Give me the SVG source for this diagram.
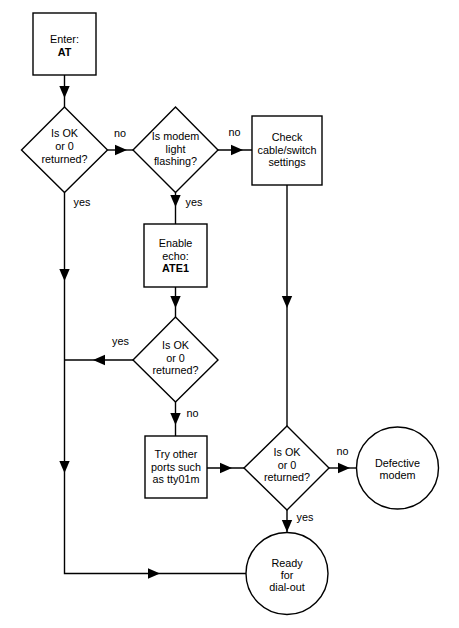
<svg xmlns="http://www.w3.org/2000/svg" width="459" height="628" viewBox="0 0 459 628">
<style>
.s{fill:#fff;stroke:#000;stroke-width:1.4}
.c line,.c polyline{stroke:#000;stroke-width:1.4;fill:none}
text{font-family:"Liberation Sans",Arial,sans-serif;font-size:10.8px;fill:#000;text-anchor:middle}
.b{font-weight:bold}
</style>
<defs>
<path id="ah" d="M0,0 L-12,-5.2 L-12,5.2 Z" fill="#000"/>
</defs>
<rect width="459" height="628" fill="#fff"/>
<g class="c" id="connectors">
<line x1="64.5" y1="75" x2="64.5" y2="107"/>
<line x1="107.5" y1="150" x2="133" y2="150"/>
<line x1="218" y1="150" x2="252" y2="150"/>
<line x1="175.5" y1="192.5" x2="175.5" y2="224"/>
<line x1="175.5" y1="287" x2="175.5" y2="317"/>
<line x1="133" y1="360" x2="64.5" y2="360"/>
<line x1="175.5" y1="402" x2="175.5" y2="436"/>
<line x1="207" y1="468" x2="244" y2="468"/>
<line x1="329" y1="468" x2="356.5" y2="468"/>
<line x1="287" y1="510" x2="287" y2="532"/>
<line x1="287" y1="185" x2="287" y2="426"/>
<polyline points="64.5,192.5 64.5,573.5 246,573.5"/>
<use href="#ah" transform="translate(64.5,98) rotate(90)"/>
<use href="#ah" transform="translate(127,150)"/>
<use href="#ah" transform="translate(243,150)"/>
<use href="#ah" transform="translate(175.5,207) rotate(90)"/>
<use href="#ah" transform="translate(175.5,308) rotate(90)"/>
<use href="#ah" transform="translate(93,360) rotate(180)"/>
<use href="#ah" transform="translate(175.5,425) rotate(90)"/>
<use href="#ah" transform="translate(232,468)"/>
<use href="#ah" transform="translate(350,468)"/>
<use href="#ah" transform="translate(287,532) rotate(90)"/>
<use href="#ah" transform="translate(287,308) rotate(90)"/>
<use href="#ah" transform="translate(64.5,281) rotate(90)"/>
<use href="#ah" transform="translate(64.5,473) rotate(90)"/>
<use href="#ah" transform="translate(160,573.5)"/>
<text x="120" y="137">no</text>
<text x="234.5" y="136">no</text>
<text x="82" y="206">yes</text>
<text x="194" y="206">yes</text>
<text x="120.5" y="345">yes</text>
<text x="192.5" y="417">no</text>
<text x="342.5" y="455">no</text>
<text x="305" y="521">yes</text>
</g>
<g id="enter">
<rect class="s" x="33" y="13" width="63" height="62"/>
<text x="64.5" y="43">Enter:</text>
<text x="64.5" y="56" class="b">AT</text>
</g>
<g id="d1">
<polygon class="s" points="64.5,107 107.5,150 64.5,192.5 21.5,150"/>
<text x="64.5" y="137">Is OK</text>
<text x="64.5" y="150">or 0</text>
<text x="64.5" y="163">returned?</text>
</g>
<g id="d2">
<polygon class="s" points="175.5,107 218,150 175.5,192.5 133,150"/>
<text x="175.5" y="140">Is modem</text>
<text x="175.5" y="152.5">light</text>
<text x="175.5" y="164.5">flashing?</text>
</g>
<g id="check">
<rect class="s" x="252" y="116" width="70" height="69"/>
<text x="287" y="141">Check</text>
<text x="287" y="153.5">cable/switch</text>
<text x="287" y="165.5">settings</text>
</g>
<g id="enable">
<rect class="s" x="144" y="224" width="63" height="63"/>
<text x="175.5" y="247">Enable</text>
<text x="175.5" y="259.5">echo:</text>
<text x="175.5" y="272" class="b">ATE1</text>
</g>
<g id="d3">
<polygon class="s" points="175.5,317 218,360 175.5,402 133,360"/>
<text x="175.5" y="349">Is OK</text>
<text x="175.5" y="361.5">or 0</text>
<text x="175.5" y="374">returned?</text>
</g>
<g id="try">
<rect class="s" x="145" y="436" width="62" height="62"/>
<text x="176" y="458">Try other</text>
<text x="176" y="470.5">ports such</text>
<text x="176" y="483">as tty01m</text>
</g>
<g id="d4">
<polygon class="s" points="287,426 329,468 287,510 244,468"/>
<text x="287" y="456">Is OK</text>
<text x="287" y="468.5">or 0</text>
<text x="287" y="481">returned?</text>
</g>
<g id="defective">
<circle class="s" cx="397.5" cy="468" r="41"/>
<text x="397.5" y="466.5">Defective</text>
<text x="397.5" y="479">modem</text>
</g>
<g id="ready">
<circle class="s" cx="287" cy="573.5" r="41"/>
<text x="287" y="566.5">Ready</text>
<text x="287" y="578.5">for</text>
<text x="287" y="591">dial-out</text>
</g>
</svg>
